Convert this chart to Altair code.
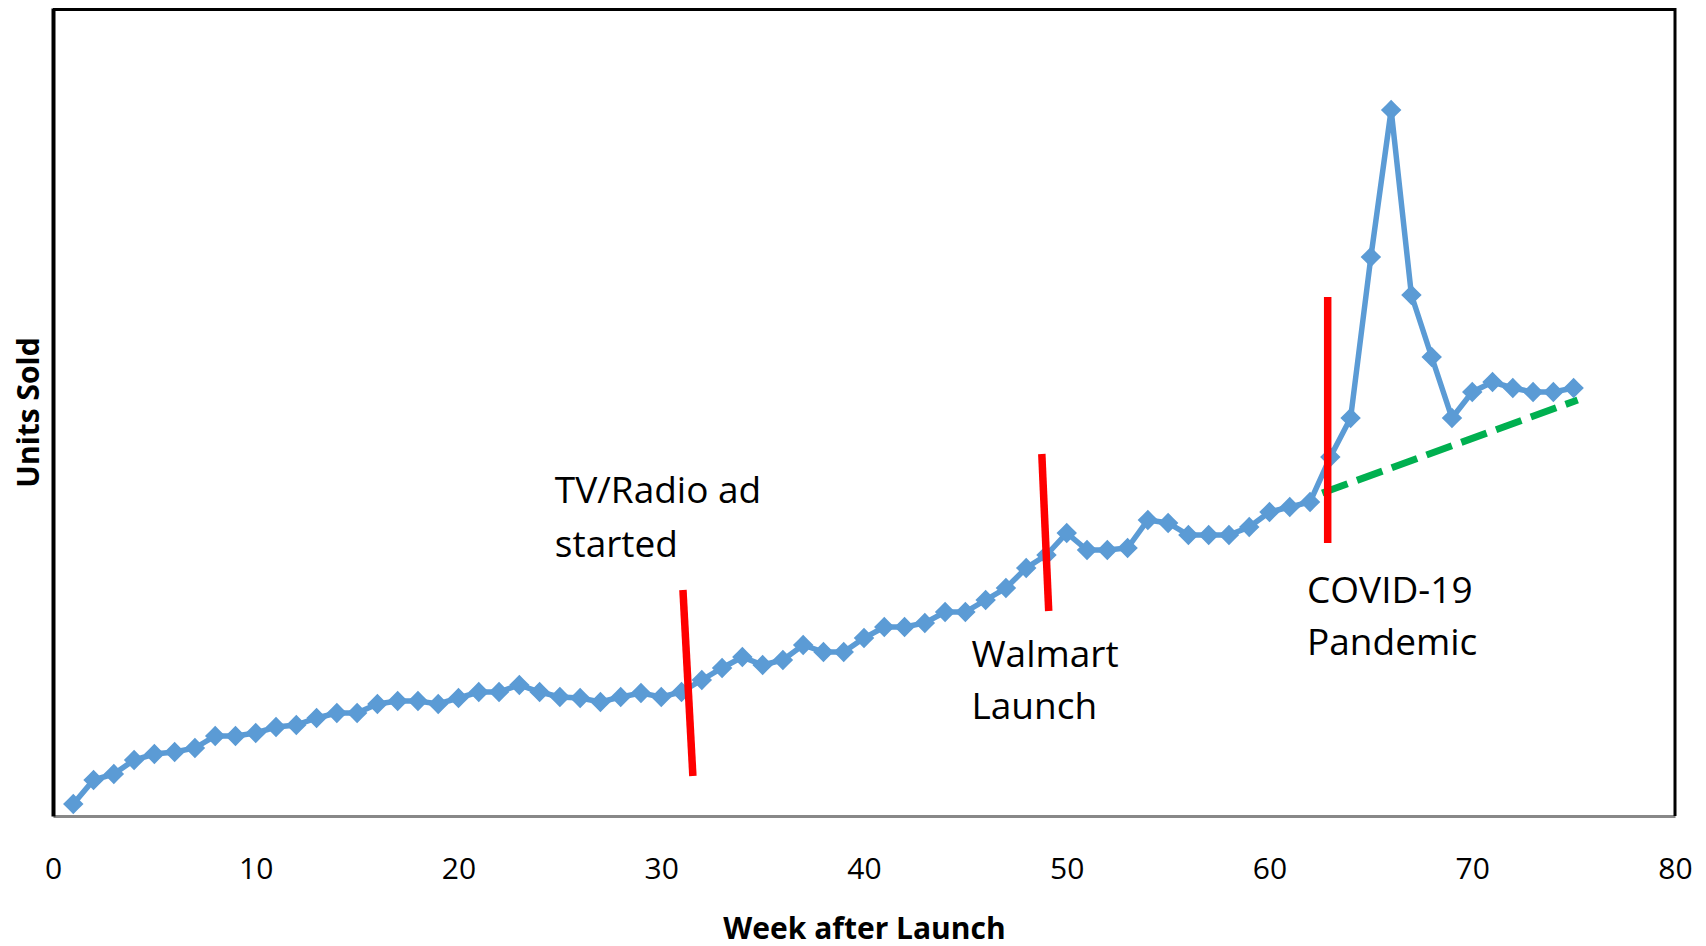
import altair as alt
import pandas as pd

# ---- data ----
weeks = list(range(1, 76))
units = [12, 36, 42, 56, 62, 64, 68, 80, 80, 83, 89, 91, 98, 103, 103, 112, 115, 115, 112, 118,
         124, 124, 131, 124, 119, 118, 114, 119, 123, 119, 124, 136, 148, 159, 151, 156, 171, 164, 164, 178,
         189, 189, 193, 204, 204, 216, 228, 248, 261, 283, 266, 266, 268, 296, 293, 281, 281, 281, 289,
         304, 309, 314, 359, 398, 559, 706, 521, 459, 398, 424, 434, 428, 424, 424, 428]

trend_week = [62.6, 75.2]
trend_units = [323, 416]

event_names = ["TV/Radio ad started", "Walmart Launch", "COVID-19 Pandemic"]
event_week_top = [31.07, 48.77, 62.87]
event_week_bottom = [31.56, 49.11, 62.87]
event_units_top = [226, 362, 519]
event_units_bottom = [40, 205, 273]

label_lines = ["TV/Radio ad", "started", "Walmart", "Launch", "COVID-19", "Pandemic"]
label_week = [24.75, 24.75, 45.3, 45.3, 61.85, 61.85]
label_units = [313, 259, 149, 97, 213, 161]

x_ticks = [0, 10, 20, 30, 40, 50, 60, 70, 80]

W, H = 1622, 808
FONT = "Open Sans"

sales = pd.DataFrame({"week": weeks, "units": units})
trend = pd.DataFrame({"week": trend_week, "units": trend_units})
events = pd.DataFrame({"event": event_names, "w1": event_week_top, "w2": event_week_bottom,
                       "u1": event_units_top, "u2": event_units_bottom})
labels = pd.DataFrame({"text": label_lines, "week": label_week, "units": label_units})

xscale = alt.Scale(domain=[0, 80], nice=False)
yscale = alt.Scale(domain=[0, 808], nice=False)

xaxis = alt.Axis(values=x_ticks, title="Week  after Launch", grid=False, ticks=False, tickSize=0,
                 labelPadding=62, labelBaseline="alphabetic", labelFontSize=30, labelFont=FONT,
                 labelColor="black", labelFlush=False, labelOverlap=False,
                 domainColor="#888888", domainWidth=3,
                 titleFont=FONT, titleFontSize=30, titleFontWeight="bold", titleColor="black",
                 titleY=122, titleBaseline="alphabetic")
yaxis = alt.Axis(labels=False, ticks=False, tickSize=0, grid=False, title="Units Sold",
                 domainColor="black", domainWidth=4,
                 titleFont=FONT, titleFontSize=30, titleFontWeight="bold", titleColor="black",
                 titleX=-15, titleY=404, titleAngle=270, titleAlign="center", titleBaseline="alphabetic")

star = "M0,-1L0.5,-0.5L1,0L0.5,0.5L0,1L-0.5,0.5L-1,0L-0.5,-0.5Z"

base = alt.Chart(sales)
line = base.mark_line(color="#5B9BD5", strokeWidth=5.5).encode(
    x=alt.X("week:Q", scale=xscale, axis=xaxis),
    y=alt.Y("units:Q", scale=yscale, axis=yaxis),
)
pts = base.mark_point(color="#5B9BD5", filled=True, opacity=1, size=420, shape=star).encode(
    x=alt.X("week:Q", scale=xscale), y=alt.Y("units:Q", scale=yscale)
)
trend_line = alt.Chart(trend).mark_line(color="#00B050", strokeWidth=7, strokeDash=[27, 10]).encode(
    x=alt.X("week:Q", scale=xscale), y=alt.Y("units:Q", scale=yscale)
)
red = alt.Chart(events).mark_rule(color="#FF0000", strokeWidth=7.5).encode(
    x=alt.X("w1:Q", scale=xscale), x2="w2:Q",
    y=alt.Y("u1:Q", scale=yscale), y2="u2:Q",
)
txt = alt.Chart(labels).mark_text(align="left", baseline="alphabetic", font=FONT, fontSize=37,
                                   color="black").encode(
    x=alt.X("week:Q", scale=xscale), y=alt.Y("units:Q", scale=yscale), text="text:N"
)
one = alt.Data(values=[{}])
top_border = alt.Chart(one).mark_rule(color="black", strokeWidth=3).encode(
    x=alt.value(0), x2=alt.value(W), y=alt.value(1.5)
)
right_border = alt.Chart(one).mark_rule(color="black", strokeWidth=3).encode(
    x=alt.value(W), y=alt.value(0), y2=alt.value(H)
)

chart = alt.layer(trend_line, line, pts, red, txt, top_border, right_border).properties(
    width=W, height=H,
    autosize=alt.AutoSizeParams(type="none"),
    padding={"left": 45, "top": 0, "right": 23, "bottom": 130},
).configure_view(stroke="transparent")

chart.save("out.html", embed_options={"renderer": "svg", "actions": False})
